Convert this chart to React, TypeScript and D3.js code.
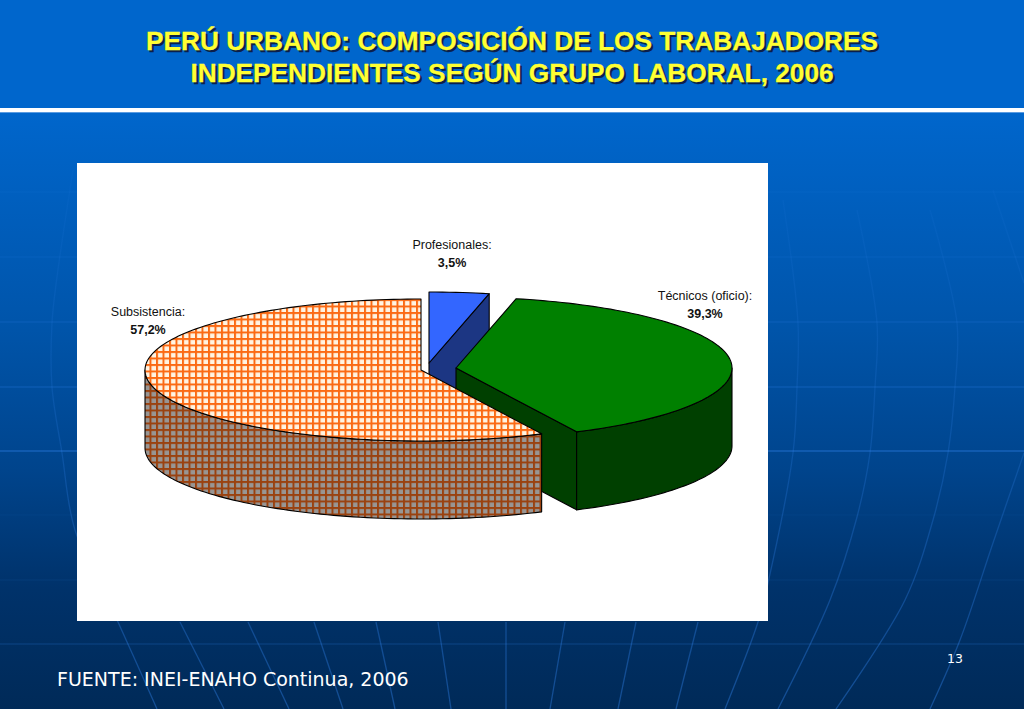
import * as d3 from 'd3';

const titleLines = ['PERÚ URBANO: COMPOSICIÓN DE LOS TRABAJADORES', 'INDEPENDIENTES SEGÚN GRUPO LABORAL, 2006'];
const source = 'FUENTE: INEI-ENAHO Continua, 2006';
const pageNumber = '13';

const categories = ['Profesionales:', 'Técnicos (oficio):', 'Subsistencia:'];
const shares = [3.5, 39.3, 57.2];

// where each exploded slice sits on the page, and where its label goes
const sliceCentres = [[429, 363], [456, 368], [421, 370]];
const labelAnchors = [[452, 249], [705, 300], [148, 316]];
const topFills = ['#3366ff', '#008000', 'url(#gridTop)'];
const wallFills = ['#1c3683', '#004000', 'url(#gridWall)'];

const rx = 276;
const ry = 71;
const depth = 78;

// background globe
const parallels = [192, 257, 322, 387, 451, 515, 580, 644];
const parallelOpacity = [0.12, 0.16, 0.28, 0.38, 0.7, 0.06, 0.1, 0.28];
const meridians = [
  [[73, 170], [57, 277], [52, 323], [52, 387], [62, 453], [75, 530], [118, 622], [157, 709]],
  [[180, 622], [224, 709]],
  [[248, 622], [289, 709]],
  [[314, 622], [343, 709]],
  [[376, 622], [395, 709]],
  [[438, 622], [451, 709]],
  [[506, 622], [506, 709]],
  [[565, 622], [550, 709]],
  [[636, 622], [618, 709]],
  [[698, 622], [676, 709]],
  [[783, 200], [798, 323], [797, 387], [793, 453], [768, 583], [758, 622], [725, 709]],
  [[857, 210], [877, 323], [875, 387], [870, 453], [857, 517], [830, 600], [778, 709]],
  [[930, 210], [957, 323], [955, 387], [948, 453], [933, 520], [905, 600], [836, 709]],
  [[993, 190], [1024, 283]],
  [[1024, 453], [993, 543], [960, 640], [930, 709]],
];

const xScale = d3.scaleLinear().domain([-1, 1]).range([-rx, rx]);
const yScale = d3.scaleLinear().domain([-1, 1]).range([-ry, ry]);
const arcs = d3.pie<number>().sort(null)(shares);

const rim = (a: number, c: number[], drop = 0): [number, number] => [
  c[0] + xScale(Math.sin(a)),
  c[1] + yScale(-Math.cos(a)) + drop,
];

const sampleAngles = (a0: number, a1: number) => {
  const n = Math.max(2, Math.ceil((a1 - a0) * 40));
  return d3.range(n + 1).map(i => a0 + ((a1 - a0) * i) / n);
};

const line = d3.line();
const curve = d3.line().curve(d3.curveCatmullRom);

const topPath = (i: number) => {
  const c = sliceCentres[i];
  const { startAngle, endAngle } = arcs[i];
  return line([c as [number, number], ...sampleAngles(startAngle, endAngle).map(a => rim(a, c))])! + 'Z';
};

// outer wall only exists on the half of the rim that faces the viewer
const wallPath = (i: number) => {
  const c = sliceCentres[i];
  const a0 = Math.max(arcs[i].startAngle, Math.PI / 2);
  const a1 = Math.min(arcs[i].endAngle, (3 * Math.PI) / 2);
  if (a1 <= a0) return null;
  const angles = sampleAngles(a0, a1);
  return line([
    ...angles.map(a => rim(a, c)),
    ...angles.slice().reverse().map(a => rim(a, c, depth)),
  ])! + 'Z';
};

// the cut face at the end of a slice shows when it ends before the bottom of the pie
const facePath = (i: number) => {
  const c = sliceCentres[i];
  const a = arcs[i].endAngle;
  if (a >= Math.PI) return null;
  return line([
    c as [number, number],
    rim(a, c),
    rim(a, c, depth),
    [c[0], c[1] + depth],
  ])! + 'Z';
};

const sans = '"Liberation Sans", Arial, sans-serif';

export default function App() {
  return (
    <svg width={1024} height={709} style={{ position: 'fixed', left: 0, top: 0 }} fontFamily={sans}>
      <defs>
        <linearGradient id="bg" x1="0" y1="0" x2="0" y2="1">
          <stop offset="0" stopColor="#0066cc" />
          <stop offset="0.35" stopColor="#0055ab" />
          <stop offset="0.6" stopColor="#00448c" />
          <stop offset="0.8" stopColor="#00326a" />
          <stop offset="1" stopColor="#002a58" />
        </linearGradient>
        <linearGradient id="meridian" gradientUnits="userSpaceOnUse" x1={0} y1={170} x2={0} y2={709}>
          <stop offset="0" stopColor="#2f80e8" stopOpacity={0.06} />
          <stop offset="0.5" stopColor="#2f80e8" stopOpacity={0.22} />
          <stop offset="1" stopColor="#2f80e8" stopOpacity={0.42} />
        </linearGradient>
        <pattern id="gridTop" width={6.5} height={6.5} patternUnits="userSpaceOnUse">
          <rect width={6.5} height={6.5} fill="#fb6a14" />
          <rect x={2} y={2} width={4.5} height={4.5} fill="#fff4e2" />
        </pattern>
        <pattern id="gridWall" width={6.5} height={6.5} patternUnits="userSpaceOnUse">
          <rect width={6.5} height={6.5} fill="#9a4210" />
          <rect x={2} y={2} width={4.5} height={4.5} fill="#989694" />
        </pattern>
      </defs>

      <rect width={1024} height={709} fill="#0066cc" />
      <rect y={112} width={1024} height={597} fill="url(#bg)" />
      {parallels.map((y, i) => (
        <line key={y} x1={0} x2={1024} y1={y} y2={y} stroke="#2f80e8" strokeWidth={1.2} opacity={parallelOpacity[i]} />
      ))}
      {meridians.map((pts, i) => (
        <path key={i} d={curve(pts as [number, number][])!} fill="none" stroke="url(#meridian)" strokeWidth={1.3} />
      ))}
      <rect y={108} width={1024} height={4} fill="#ffffff" />
      <rect y={112} width={1024} height={1} fill="#5b9be0" />

      {titleLines.map((t, i) => (
        <g key={t} fontSize={26.25} fontWeight="bold" textAnchor="middle">
          <text x={514} y={51.5 + i * 32} fill="#0b1f4a" stroke="#0b1f4a" strokeWidth={0.4}>{t}</text>
          <text x={512} y={49.5 + i * 32} fill="#ffff33" stroke="#ffff33" strokeWidth={0.3}>{t}</text>
        </g>
      ))}

      <rect x={77} y={163} width={691} height={458} fill="#ffffff" />

      {/* back to front: the subsistence wall hides the lower end of the green cut face */}
      {arcs.map((_, i) => {
        const wall = wallPath(i);
        const face = facePath(i);
        return (
          <g key={categories[i]} stroke="#000000" strokeWidth={1.1} strokeLinejoin="round">
            {face && <path d={face} fill={wallFills[i]} />}
            {wall && <path d={wall} fill={wallFills[i]} />}
            <path d={topPath(i)} fill={topFills[i]} />
          </g>
        );
      })}

      {categories.map((c, i) => (
        <g key={c} textAnchor="middle" fontSize={12.5} fill="#111111">
          <text x={labelAnchors[i][0]} y={labelAnchors[i][1]}>{c}</text>
          <text x={labelAnchors[i][0]} y={labelAnchors[i][1] + 18} fontWeight="bold">
            {d3.format('.1f')(shares[i]).replace('.', ',')}%
          </text>
        </g>
      ))}

      <text x={57} y={686} fontSize={19} fontFamily='"DejaVu Sans", sans-serif' fill="#ffffff">{source}</text>
      <text x={955} y={663} fontSize={12.5} textAnchor="middle" fontFamily='"DejaVu Sans", sans-serif' fill="#ffffff">{pageNumber}</text>
    </svg>
  );
}
